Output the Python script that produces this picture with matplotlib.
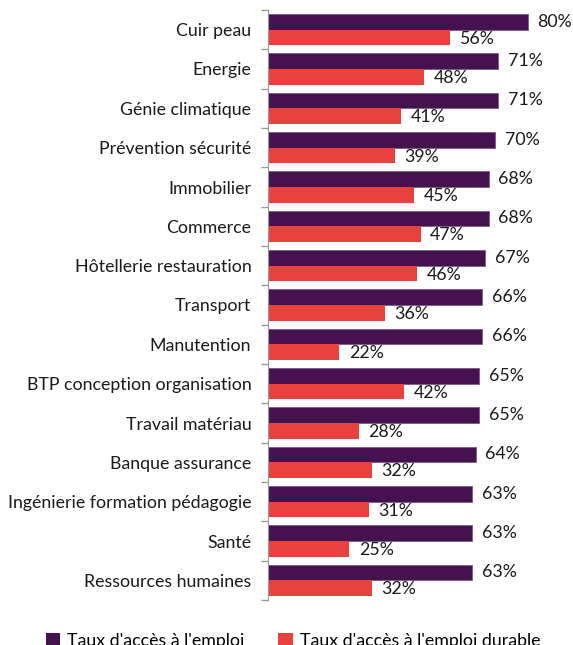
import matplotlib
matplotlib.use("Agg")
import matplotlib.pyplot as plt
import numpy as np

categories = ["Cuir peau", "Energie", "Génie climatique", "Prévention sécurité",
              "Immobilier", "Commerce", "Hôtellerie restauration", "Transport",
              "Manutention", "BTP conception organisation", "Travail matériau",
              "Banque assurance", "Ingénierie formation pédagogie", "Santé",
              "Ressources humaines"]
acces_emploi = [80, 71, 71, 70, 68, 68, 67, 66, 66, 65, 65, 64, 63, 63, 63]
acces_durable = [56, 48, 41, 39, 45, 47, 46, 36, 22, 42, 28, 32, 31, 25, 32]
series_names = ["Taux d'accès à l'emploi", "Taux d'accès à l'emploi durable"]

purple = "#45114f"
red = "#e8413e"

plt.rcParams['font.family'] = ['Lato', 'DejaVu Sans']
fig = plt.figure(figsize=(5.73, 6.45), dpi=100)
W, H = 573, 645
xmax = 93
ax = fig.add_axes([268/W, 1-600/H, 3.245*xmax/W, 590/H])

fs = 12.8
n = len(categories)
y = np.arange(n)
h = 0.4
ax.barh(y - h/2, acces_emploi, height=h, color=purple, edgecolor="#7a5a85", linewidth=0.6)
ax.barh(y + h/2, acces_durable, height=h, color=red, edgecolor="none")

for yi, v in zip(y, acces_emploi):
    ax.text(v + 3, yi - h/2, f"{v}%", va="center", ha="left", fontsize=fs, color="#1a1a1a")
for yi, v in zip(y, acces_durable):
    ax.text(v + 3, yi + h/2 + 0.03, f"{v}%", va="center", ha="left", fontsize=fs, color="#1a1a1a")

ax.set_xlim(0, xmax)
ax.set_ylim(n - 0.5, -0.5)
ax.set_yticks(y)
ax.set_yticklabels(categories, fontsize=fs, color="#1a1a1a")
ax.set_yticks(np.arange(n + 1) - 0.5, minor=True)
ax.tick_params(axis="y", which="major", length=0, pad=12)
ax.tick_params(axis="y", which="minor", length=5, color="#999999", width=1)
ax.set_xticks([])
for s in ["top", "right", "bottom"]:
    ax.spines[s].set_visible(False)
ax.spines["left"].set_color("#999999")

from matplotlib.patches import Patch
handles = [Patch(facecolor=purple), Patch(facecolor=red)]
fig.legend(handles, series_names, loc="center", bbox_to_anchor=(293/W, 1-641/H),
           ncol=2, frameon=False, fontsize=fs, handlelength=0.8, handleheight=0.8,
           columnspacing=1.9, handletextpad=0.4, borderpad=0, borderaxespad=0)

fig.savefig("out.png", dpi=100)
